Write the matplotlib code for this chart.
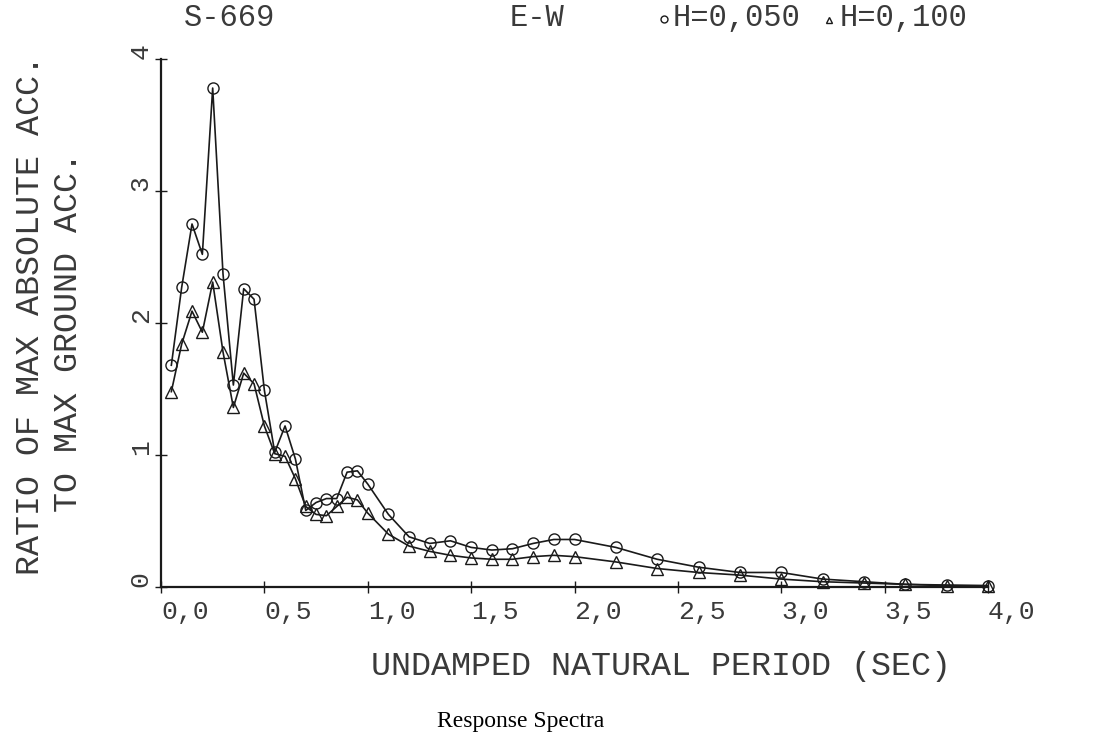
import matplotlib
matplotlib.use("Agg")
import matplotlib.pyplot as plt
from matplotlib.lines import Line2D

# ---- data ----
period = [0.05, 0.10, 0.15, 0.20, 0.25, 0.30, 0.35, 0.40, 0.45, 0.50,
          0.55, 0.60, 0.65, 0.70, 0.75, 0.80, 0.85, 0.90, 0.95, 1.00,
          1.1, 1.2, 1.3, 1.4, 1.5, 1.6, 1.7, 1.8, 1.9, 2.0,
          2.2, 2.4, 2.6, 2.8, 3.0, 3.2, 3.4, 3.6, 3.8, 4.0]

ratio_h050 = [1.68, 2.27, 2.75, 2.52, 3.78, 2.37, 1.53, 2.26, 2.18, 1.49,
              1.02, 1.22, 0.97, 0.58, 0.64, 0.67, 0.67, 0.87, 0.88, 0.78,
              0.55, 0.38, 0.33, 0.35, 0.30, 0.28, 0.29, 0.33, 0.36, 0.36,
              0.30, 0.21, 0.15, 0.11, 0.11, 0.06, 0.04, 0.02, 0.015, 0.01]

ratio_h100 = [1.48, 1.84, 2.09, 1.93, 2.31, 1.78, 1.36, 1.62, 1.54, 1.22,
              1.01, 0.99, 0.82, 0.61, 0.55, 0.54, 0.61, 0.68, 0.66, 0.56,
              0.40, 0.31, 0.27, 0.24, 0.22, 0.21, 0.21, 0.23, 0.24, 0.23,
              0.19, 0.14, 0.11, 0.09, 0.06, 0.04, 0.03, 0.02, 0.01, 0.01]

x_ticks = [0.0, 0.5, 1.0, 1.5, 2.0, 2.5, 3.0, 3.5, 4.0]
x_ticklabels = ["0,0", "0,5", "1,0", "1,5", "2,0", "2,5", "3,0", "3,5", "4,0"]
y_ticks = [0, 1, 2, 3, 4]
y_ticklabels = ["0", "1", "2", "3", "4"]

title_left = "S-669"
title_mid = "E-W"
label_h050 = "H=0,050"
label_h100 = "H=0,100"
xlabel = "UNDAMPED NATURAL PERIOD (SEC)"
ylabel1 = "RATIO OF MAX ABSOLUTE ACC."
ylabel2 = "TO MAX GROUND ACC."
caption = "Response Spectra"

# ---- figure ----
W, H = 1101, 737
fig = plt.figure(figsize=(W / 100, H / 100), dpi=100)
fig.patch.set_facecolor("white")

def fx(px):
    return px / W

def fy(py):
    return 1 - py / H

ax = fig.add_axes([fx(161), fy(587), fx(988) - fx(161), fy(59) - fy(587)])
ax.set_xlim(0, 4)
ax.set_ylim(0, 4)

ink = "#1a1a1a"
txt = "#3a3a3a"
mono = "Liberation Mono"

ax.plot(period, ratio_h050, color=ink, lw=1.2, marker="o", ms=8,
        mfc="none", mec=ink, mew=1.0, clip_on=False, zorder=3)
ax.plot(period, ratio_h100, color=ink, lw=1.2, marker="^", ms=8,
        mfc="none", mec=ink, mew=1.0, clip_on=False, zorder=3)

for s in ["top", "right"]:
    ax.spines[s].set_visible(False)
for s in ["left", "bottom"]:
    ax.spines[s].set_linewidth(1.6)
    ax.spines[s].set_color(ink)

ax.set_xticks(x_ticks)
ax.set_xticklabels(x_ticklabels, ha="left", fontsize=19, color=txt, family=mono)
ax.set_yticks(y_ticks)
ax.set_yticklabels(y_ticklabels, rotation=90, va="bottom", fontsize=19, color=txt,
                   family=mono)
ax.tick_params(axis="both", direction="inout", length=8, width=1.0, color=ink)
ax.tick_params(axis="x", pad=5)
ax.tick_params(axis="y", pad=2)

# titles
fig.text(fx(184), fy(18), title_left, fontsize=22, color=txt, ha="left", va="center",
         family=mono)
fig.text(fx(510), fy(18), title_mid, fontsize=22, color=txt, ha="left", va="center",
         family=mono)
fig.add_artist(Line2D([fx(664)], [fy(19)], transform=fig.transFigure, marker="o",
                      ms=5, mfc="none", mec=ink, mew=1.0, ls="none"))
fig.text(fx(673), fy(18), label_h050, fontsize=22, color=txt, ha="left", va="center",
         family=mono)
fig.add_artist(Line2D([fx(829)], [fy(20)], transform=fig.transFigure, marker="^",
                      ms=5, mfc="none", mec=ink, mew=1.0, ls="none"))
fig.text(fx(840), fy(18), label_h100, fontsize=22, color=txt, ha="left", va="center",
         family=mono)

# axis labels
fig.text(fx(661), fy(666), xlabel, fontsize=24, color=txt, ha="center", va="center",
         family=mono)
fig.text(fx(31), fy(315), ylabel1, fontsize=24, color=txt, ha="center", va="center",
         rotation=90, family=mono)
fig.text(fx(69), fy(332), ylabel2, fontsize=24, color=txt, ha="center", va="center",
         rotation=90, family=mono)

# caption
fig.text(fx(521), fy(721), caption, fontsize=17, color="black", ha="center",
         va="center", family="Liberation Serif")

fig.savefig("out.png", dpi=100, facecolor="white")
